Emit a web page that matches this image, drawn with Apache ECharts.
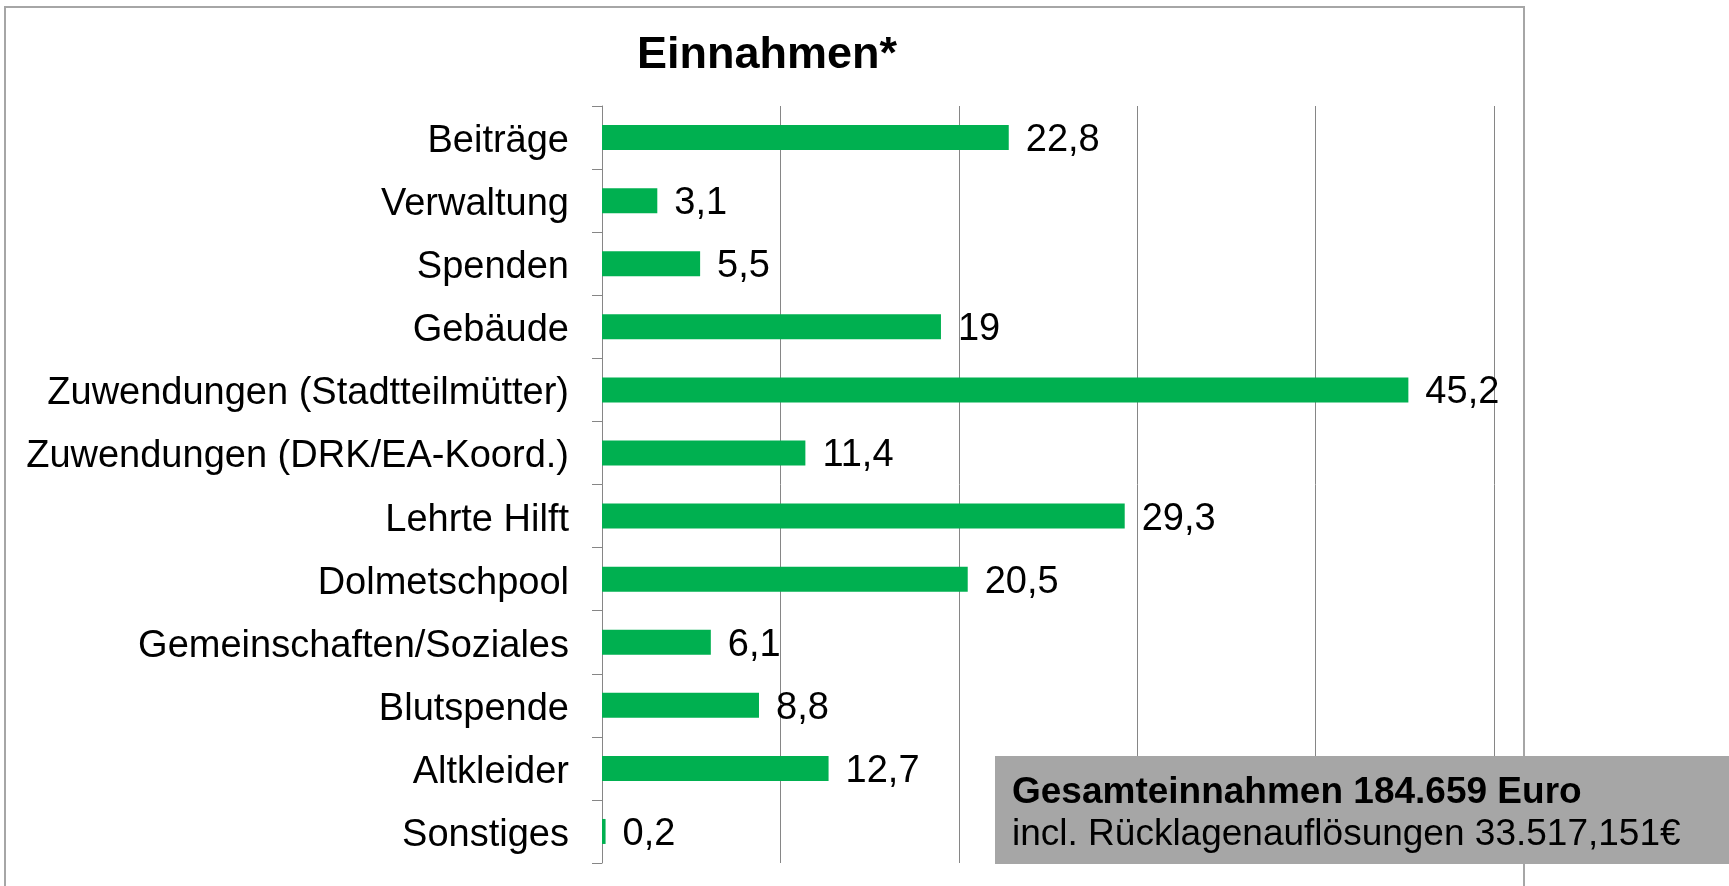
<!DOCTYPE html>
<html>
<head>
<meta charset="utf-8">
<script src="https://cdn.jsdelivr.net/npm/echarts@6/dist/echarts.min.js"></script>
<style>
  html, body { margin: 0; padding: 0; background: #fff; }
  #chart { width: 1729px; height: 886px; }
</style>
</head>
<body>
<div id="chart"></div>
<script>
const categories = [
  'Beiträge',
  'Verwaltung',
  'Spenden',
  'Gebäude',
  'Zuwendungen (Stadtteilmütter)',
  'Zuwendungen (DRK/EA-Koord.)',
  'Lehrte Hilft',
  'Dolmetschpool',
  'Gemeinschaften/Soziales',
  'Blutspende',
  'Altkleider',
  'Sonstiges'
]
const values = [22.8, 3.1, 5.5, 19, 45.2, 11.4, 29.3, 20.5, 6.1, 8.8, 12.7, 0.2]

const boxLines = ['Gesamteinnahmen 184.659 Euro', 'incl. Rücklagenauflösungen 33.517,151€']

const font = 'Liberation Sans, Arial, sans-serif'
const chart = echarts.init(document.getElementById('chart'))

chart.setOption({
  animation: false,
  title: {
    text: 'Einnahmen*',
    left: 762,
    top: 28,
    textAlign: 'center',
    textStyle: {
      fontSize: 45,
      fontWeight: 'bold',
      fontFamily: font,
      color: '#000'
    }
  },
  grid: {
    left: 602,
    top: 106,
    width: 892,
    height: 757
  },
  xAxis: {
    type: 'value',
    min: 0,
    max: 50,
    interval: 10,
    axisLabel: {show: false},
    axisLine: {show: false},
    axisTick: {show: false},
    splitLine: {
      lineStyle: {color: '#868686', width: 1}
    }
  },
  yAxis: {
    type: 'category',
    inverse: true,
    data: categories,
    axisLine: {
      lineStyle: {color: '#868686', width: 1}
    },
    axisTick: {
      show: true,
      length: 10,
      lineStyle: {color: '#868686', width: 1}
    },
    axisLabel: {
      margin: 33,
      verticalAlign: 'top',
      lineHeight: 8,
      fontSize: 38,
      fontFamily: font,
      color: '#000'
    }
  },
  series: [
    {
      type: 'bar',
      data: values,
      barWidth: 25,
      itemStyle: {color: '#00B050'},
      label: {
        show: true,
        position: 'right',
        distance: 17,
        offset: [0, 3],
        fontSize: 38,
        fontFamily: font,
        color: '#000',
        formatter: p => String(p.value).replace('.', ',')
      }
    }
  ],
  graphic: [
    {
      type: 'rect',
      silent: true,
      z: -10,
      shape: {x: 5, y: 7, width: 1519, height: 900},
      style: {fill: 'none', stroke: '#A6A6A6', lineWidth: 2}
    },
    {
      type: 'rect',
      silent: true,
      z: 100,
      shape: {x: 995, y: 756, width: 740, height: 108},
      style: {fill: '#A6A6A6'}
    },
    {
      type: 'text',
      silent: true,
      z: 101,
      x: 1012,
      y: 793,
      style: {
        text: boxLines[0],
        font: 'bold 37px ' + font,
        fill: '#000',
        verticalAlign: 'middle'
      }
    },
    {
      type: 'text',
      silent: true,
      z: 101,
      x: 1012,
      y: 835,
      style: {
        text: boxLines[1],
        font: '37px ' + font,
        fill: '#000',
        verticalAlign: 'middle'
      }
    }
  ]
})
</script>
</body>
</html>
